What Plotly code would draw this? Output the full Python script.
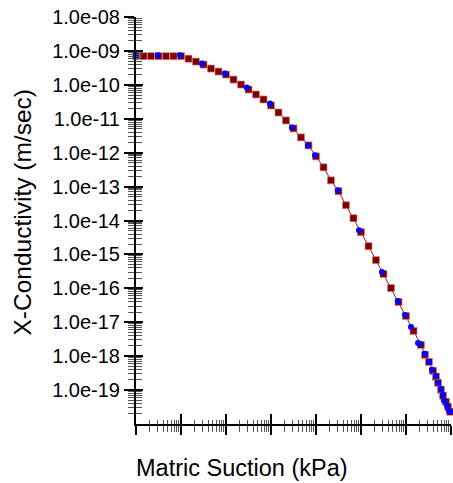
import plotly.graph_objects as go

# Square series (dark red) - matric suction (kPa) vs conductivity (m/sec)
suction_sq = [0.01, 0.0147, 0.0215, 0.0316, 0.0464, 0.0681, 0.1, 0.147, 0.215, 0.316,
              0.464, 0.681, 1, 1.47, 2.15, 3.16, 4.64, 6.81, 10, 14.7, 21.5, 31.6, 46.4,
              68.1, 100, 147, 215, 316, 464, 681, 1000, 1470, 2150, 3160, 4640, 6810,
              10000, 14700, 21500, 26400, 32400, 39800, 46400, 51400, 60000, 66400,
              77400, 85800, 95000]
k_sq = [7.0e-10, 7.0e-10, 7.0e-10, 7.0e-10, 7.0e-10, 7.0e-10, 7.0e-10, 5.9e-10, 4.85e-10,
        3.95e-10, 3.02e-10, 2.46e-10, 2.01e-10, 1.43e-10, 1.02e-10, 7.28e-11, 5.19e-11,
        3.70e-11, 2.46e-11, 1.53e-11, 8.91e-12, 5.19e-12, 2.82e-12, 1.64e-12, 7.78e-13,
        3.70e-13, 1.53e-13, 7.28e-14, 2.82e-14, 1.17e-14, 4.53e-15, 1.75e-15, 6.79e-16,
        2.64e-16, 1.02e-16, 3.95e-17, 1.53e-17, 5.55e-18, 2.15e-18, 1.09e-18, 6.79e-19,
        3.70e-19, 2.46e-19, 1.64e-19, 1.02e-19, 6.79e-20, 4.53e-20, 3.23e-20, 2.30e-20]

# Circle series (blue)
suction_bl = [0.01, 0.0308, 0.095, 0.293, 0.95, 2.9, 9.5, 29.2, 66.4, 95, 308, 903, 2930,
              6640, 9500, 12900, 18500, 20500, 26400, 32400, 37800, 46400, 51400, 60000,
              66400, 69900, 81500, 90300, 95000]
k_bl = [7.6e-10, 7.4e-10, 7.4e-10, 4.23e-10, 2.15e-10, 8.34e-11, 2.82e-11, 5.55e-12,
        1.64e-12, 8.34e-13, 7.78e-14, 5.19e-15, 3.02e-16, 4.23e-17, 1.64e-17, 7.28e-18,
        2.46e-18, 2.30e-18, 1.17e-18, 6.79e-19, 3.95e-19, 2.64e-19, 1.64e-19, 1.09e-19,
        7.28e-20, 4.85e-20, 3.45e-20, 2.46e-20, 2.30e-20]

y_tickvals = [1e-8, 1e-9, 1e-10, 1e-11, 1e-12, 1e-13, 1e-14, 1e-15, 1e-16, 1e-17, 1e-18, 1e-19]
y_ticktext = ["1.0e-08", "1.0e-09", "1.0e-10", "1.0e-11", "1.0e-12", "1.0e-13",
              "1.0e-14", "1.0e-15", "1.0e-16", "1.0e-17", "1.0e-18", "1.0e-19"]
x_title = "Matric Suction (kPa)"
y_title = "X-Conductivity (m/sec)"

x_major = [10.0 ** e for e in range(-2, 6)]
x_minor = [d * 10.0 ** e for e in range(-2, 5) for d in range(2, 10)]
y_minor = [d * 10.0 ** e for e in range(-20, -8) for d in range(2, 10)]

FONT = "Liberation Sans, Arial, sans-serif"

fig = go.Figure()
fig.add_trace(go.Scatter(x=suction_sq, y=k_sq, mode="lines",
                         line=dict(color="#8b1a1a", width=1), showlegend=False,
                         cliponaxis=False, hoverinfo="skip"))
fig.add_trace(go.Scatter(x=suction_sq, y=k_sq, mode="markers",
                         marker=dict(symbol="square", size=7, color="#800000",
                                     line=dict(width=1, color="rgba(205,130,130,0.7)")),
                         showlegend=False, cliponaxis=False))
fig.add_trace(go.Scatter(x=suction_bl, y=k_bl, mode="markers",
                         marker=dict(symbol="circle", size=6, color="#0000ff",
                                     line=dict(width=0)),
                         showlegend=False, cliponaxis=False))

common_x = dict(type="log", range=[-2, 5], showgrid=False, zeroline=False)
common_y = dict(type="log", range=[-20, -8], showgrid=False, zeroline=False)

fig.update_layout(
    width=453, height=483,
    margin=dict(l=136, r=2, t=17, b=59),
    paper_bgcolor="white", plot_bgcolor="white",
    font=dict(family=FONT, size=20, color="black"),
    xaxis=dict(**common_x, showline=True, linecolor="black", linewidth=2,
               tickmode="array", tickvals=x_major, showticklabels=False,
               ticks="outside", ticklen=9, tickwidth=2, tickcolor="black",
               minor=dict(tickmode="array", tickvals=x_minor, ticks="outside",
                          ticklen=6, tickwidth=1, tickcolor="#555")),
    xaxis2=dict(**common_x, overlaying="x", anchor="y", side="bottom", showline=False,
                tickmode="array", tickvals=x_major, showticklabels=False,
                ticks="inside", ticklen=10, tickwidth=2, tickcolor="black",
                minor=dict(tickmode="array", tickvals=x_minor, ticks="inside",
                           ticklen=4, tickwidth=1, tickcolor="#555")),
    yaxis=dict(**common_y, showline=True, linecolor="black", linewidth=2,
               tickmode="array", tickvals=y_tickvals, ticktext=y_ticktext,
               ticks="outside", ticklen=10, tickwidth=2, tickcolor="black",
               tickfont=dict(family=FONT, size=20, color="black"),
               minor=dict(tickmode="array", tickvals=y_minor, ticks="outside",
                          ticklen=6, tickwidth=1, tickcolor="#555")),
    yaxis2=dict(**common_y, overlaying="y", anchor="x", side="left", showline=False,
                tickmode="array", tickvals=y_tickvals, showticklabels=False,
                ticks="inside", ticklen=7, tickwidth=2, tickcolor="black",
                minor=dict(tickmode="array", tickvals=y_minor, ticks="inside",
                           ticklen=6, tickwidth=1, tickcolor="#555")),
    annotations=[
        dict(text=x_title, xref="paper", yref="paper", x=(242 - 136) / 315,
             y=(424 - 468) / 407, xanchor="center", yanchor="middle", showarrow=False,
             font=dict(family=FONT, size=23.5, color="black")),
        dict(text=y_title, xref="paper", yref="paper", x=(22 - 136) / 315,
             y=(424 - 212.5) / 407, xanchor="center", yanchor="middle", showarrow=False,
             textangle=-90, font=dict(family=FONT, size=24.5, color="black")),
    ],
)
# invisible trace to activate overlay axes
fig.add_trace(go.Scatter(x=[0.01], y=[1e-8], xaxis="x2", yaxis="y2", mode="markers",
                         marker=dict(opacity=0), showlegend=False, hoverinfo="skip"))

fig.write_html("out.html")
